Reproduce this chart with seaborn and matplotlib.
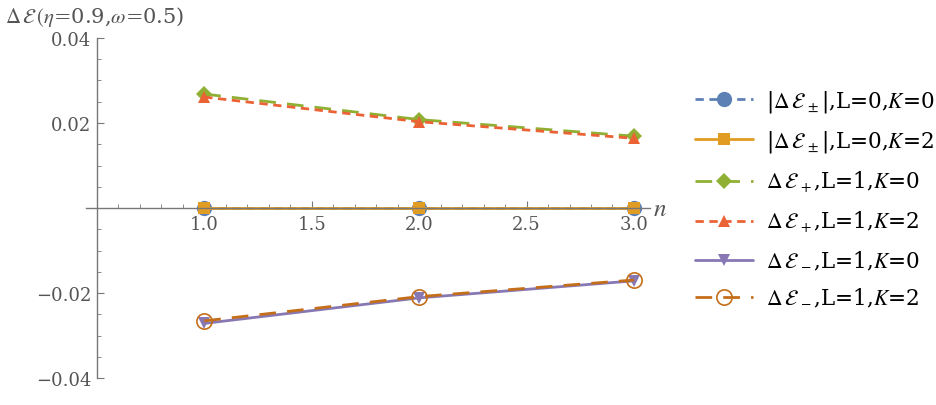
import numpy as np
import pandas as pd
import matplotlib
matplotlib.use("Agg")
import matplotlib.pyplot as plt
from matplotlib.ticker import MultipleLocator
import seaborn as sns

# data
n = [1.0, 2.0, 3.0]
d_pm_L0_K0 = [0.0, 0.0, 0.0]
d_pm_L0_K2 = [0.0, 0.0, 0.0]
d_p_L1_K0 = [0.0268, 0.0208, 0.0169]
d_p_L1_K2 = [0.0261, 0.0203, 0.0164]
d_m_L1_K0 = [-0.0271, -0.0211, -0.0171]
d_m_L1_K2 = [-0.0265, -0.0208, -0.0169]

labels = [r'|$\Delta\,\mathcal{E}_{\,\pm}$|,L=0,$K$=0',
          r'|$\Delta\,\mathcal{E}_{\,\pm}$|,L=0,$K$=2',
          r'$\Delta\,\mathcal{E}_{\,+}$,L=1,$K$=0',
          r'$\Delta\,\mathcal{E}_{\,+}$,L=1,$K$=2',
          r'$\Delta\,\mathcal{E}_{\,-}$,L=1,$K$=0',
          r'$\Delta\,\mathcal{E}_{\,-}$,L=1,$K$=2']
series = [d_pm_L0_K0, d_pm_L0_K2, d_p_L1_K0, d_p_L1_K2, d_m_L1_K0, d_m_L1_K2]

colors = ['#5E81B5', '#E19C24', '#8FB032', '#EB6235', '#8778B3', '#C56E1A']
markers = ['o', 's', 'D', '^', 'v', 'o']
dashes = [(3, 2), '', (6, 4), (3, 2), '', (6, 4)]
msizes = [11, 8, 8, 9, 9, 11]

sns.set_style("white")
plt.rcParams['font.family'] = ['DejaVu Serif']
plt.rcParams['mathtext.fontset'] = 'stix'

fig = plt.figure(figsize=(9.37, 4.06), dpi=100)
ax = fig.add_axes([0.0918, 0.05, 0.602, 0.87])

for i, (lab, ys) in enumerate(zip(labels, series)):
    df = pd.DataFrame({'n': n, 'y': ys})
    line_kw = dict(color=colors[i], marker=markers[i], markersize=msizes[i], lw=2)
    if i == 5:
        line_kw.update(markerfacecolor='none', markeredgecolor=colors[i], markeredgewidth=1.2)
    else:
        line_kw.update(markeredgewidth=0)
    sns.lineplot(data=df, x='n', y='y', ax=ax, label=lab, **line_kw)
    ln = ax.lines[-1]
    if dashes[i] == '':
        ln.set_linestyle('-')
    else:
        ln.set_dashes(dashes[i])

ax.set_xlim(0.45, 3.075)
ax.set_ylim(-0.0415, 0.0415)

axis_col = '#777777'
for s in ['top', 'right']:
    ax.spines[s].set_visible(False)
ax.spines['left'].set_position(('data', 0.5))
ax.spines['bottom'].set_position(('data', 0.0))
ax.spines['left'].set_bounds(-0.04, 0.04)
for s in ['left', 'bottom']:
    ax.spines[s].set_color(axis_col)
    ax.spines[s].set_linewidth(1.0)

ax.set_xticks([1.0, 1.5, 2.0, 2.5, 3.0])
ax.set_xticklabels(['1.0', '1.5', '2.0', '2.5', '3.0'])
ax.xaxis.set_minor_locator(MultipleLocator(0.1))
ax.set_yticks([-0.04, -0.02, 0.02, 0.04])
ax.set_yticklabels(['\u22120.04', '\u22120.02', '0.02', '0.04'])
ax.yaxis.set_minor_locator(MultipleLocator(0.005))

ax.tick_params(axis='x', which='major', direction='in', length=5, color=axis_col,
               labelsize=13, labelcolor='#555555', pad=5)
ax.tick_params(axis='x', which='minor', direction='in', length=3, color=axis_col)
ax.tick_params(axis='y', which='major', direction='in', length=5, color=axis_col,
               labelsize=13, labelcolor='#555555', pad=4)
ax.tick_params(axis='y', which='minor', direction='in', length=3, color=axis_col)
ax.tick_params(bottom=True, left=True, which='both')

ax.set_xlabel('')
ax.set_ylabel('')
ax.text(3.09, 0.0, r'$n$', fontsize=18, color='#555555', va='center', ha='left')
fig.text(0.005, 0.958, r'$\Delta\,\mathcal{E}\,(\eta$=0.9,$\omega$=0.5)',
         fontsize=15, color='#555555', va='center', ha='left')

ax.legend(loc='upper left', bbox_to_anchor=(1.065, 0.865), frameon=False,
          fontsize=15.5, handlelength=2.7, labelspacing=0.68, handletextpad=0.6,
          borderaxespad=0, labelcolor='black')

fig.savefig('out.png', dpi=100)
